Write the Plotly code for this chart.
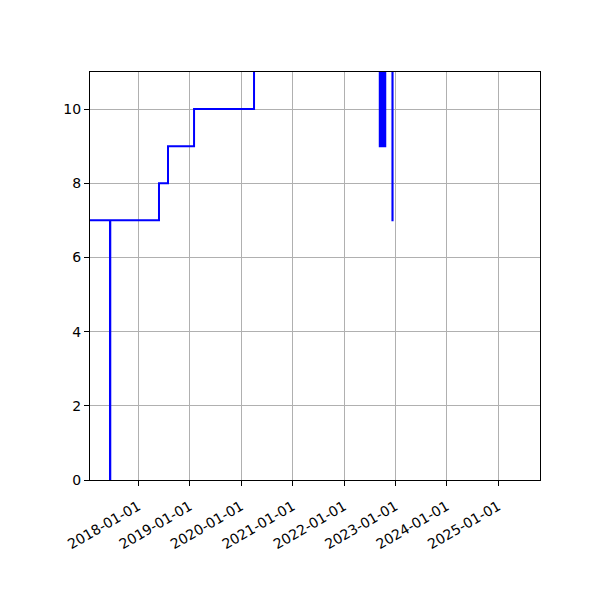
import plotly.graph_objects as go

dates = [
    "2017-01-01", "2017-06-14", "2017-06-16", "2018-05-28", "2018-07-31",
    "2019-02-01", "2020-04-02",
    "2022-09-12", "2022-09-15", "2022-09-18", "2022-09-21", "2022-09-24",
    "2022-09-27", "2022-09-30", "2022-10-03", "2022-10-06", "2022-10-09",
    "2022-10-12", "2022-10-15", "2022-10-18", "2022-10-21",
    "2022-12-11", "2022-12-12", "2025-05-01",
]
values = [
    7, 0, 7, 8, 9,
    10, 12,
    9, 12, 9, 12, 9,
    12, 9, 12, 9, 12,
    9, 12, 9, 12,
    7, 12, 12,
]
tick_dates = ["2018-01-01", "2019-01-01", "2020-01-01", "2021-01-01",
              "2022-01-01", "2023-01-01", "2024-01-01", "2025-01-01"]
y_ticks = [0, 2, 4, 6, 8, 10]

fig = go.Figure()
fig.add_trace(go.Scatter(
    x=dates, y=values, mode="lines",
    line=dict(color="blue", width=2, shape="hv"),
    showlegend=False, hoverinfo="skip",
))

axis_common = dict(
    showline=True, linecolor="black", linewidth=1.1, mirror=True,
    ticks="outside", ticklen=5, tickwidth=1.1, tickcolor="black",
    showgrid=True, gridcolor="#b0b0b0", gridwidth=1.1,
    zeroline=False,
    tickfont=dict(family="DejaVu Sans", size=14, color="black"),
)

fig.update_xaxes(
    type="date", range=["2017-01-23", "2025-10-24"],
    tickvals=tick_dates, ticktext=tick_dates, tickangle=-30,
    ticklabelstandoff=7,
    **axis_common,
)
fig.update_yaxes(
    range=[0, 11], tickvals=y_ticks, ticktext=[str(v) for v in y_ticks],
    **axis_common,
)

fig.update_layout(
    width=600, height=600, autosize=False,
    margin=dict(l=82, r=68, t=64, b=128),
    paper_bgcolor="white", plot_bgcolor="white",
    font=dict(family="DejaVu Sans", color="black"),
)

fig.write_html("out.html")
